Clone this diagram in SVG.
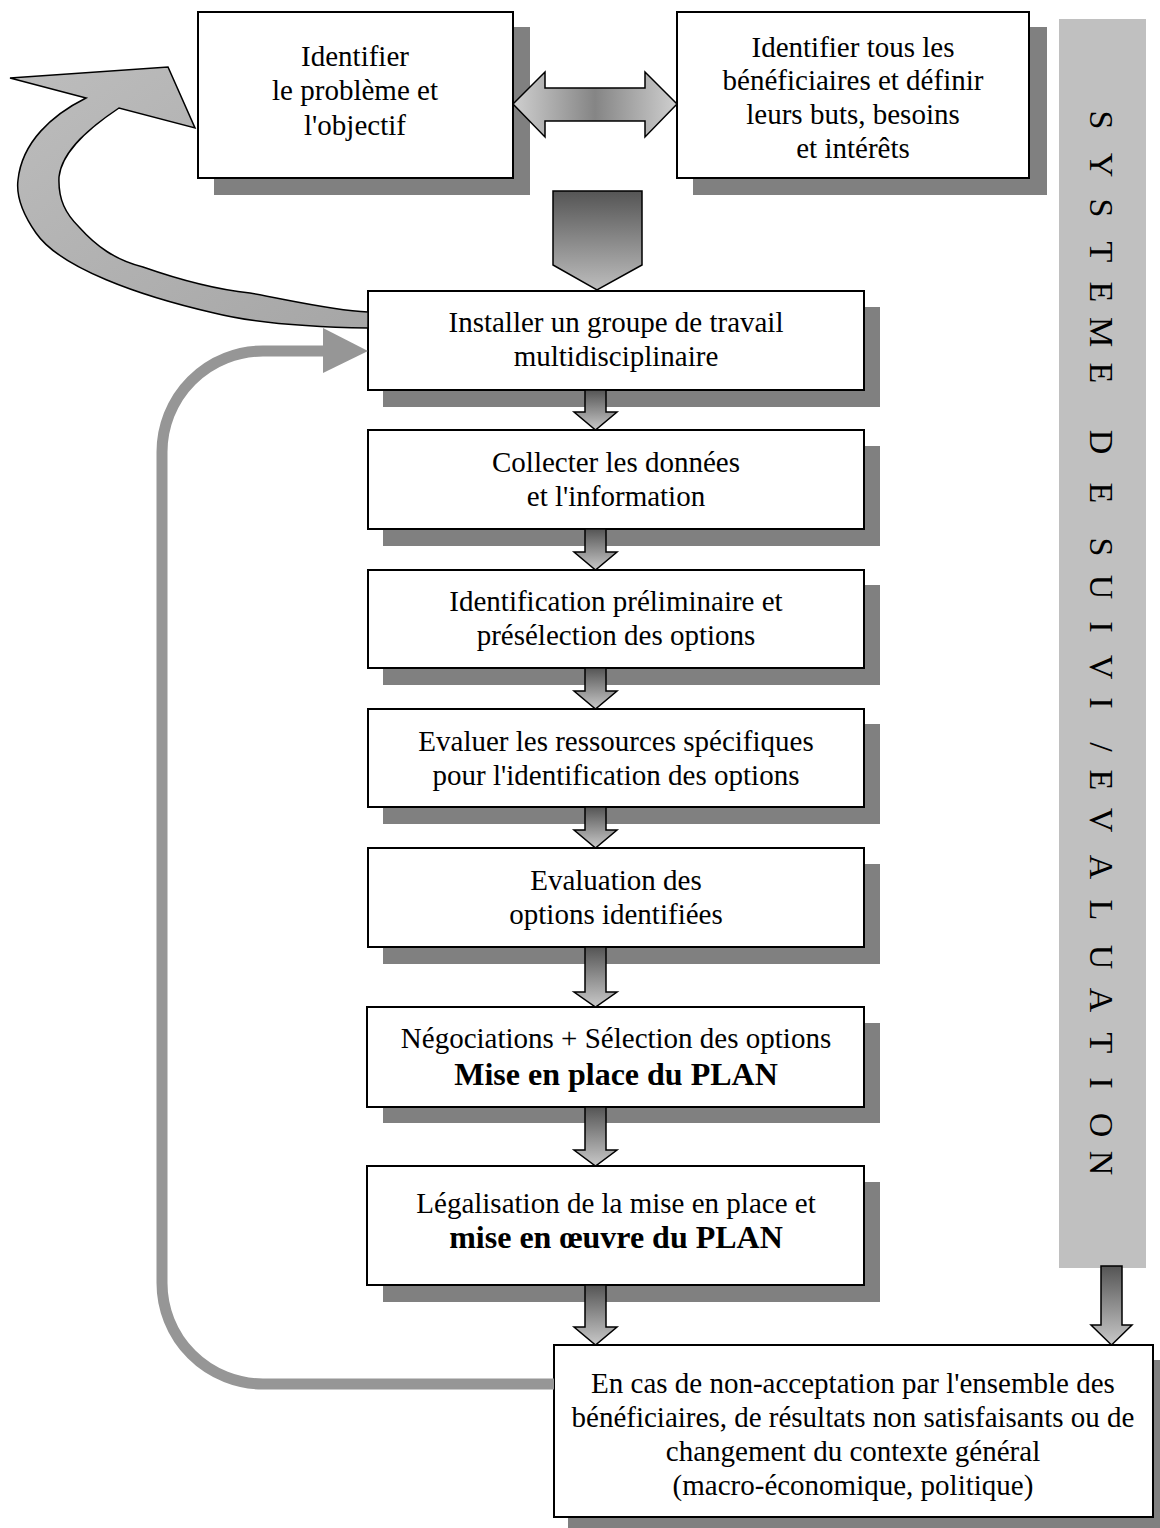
<svg xmlns="http://www.w3.org/2000/svg" width="1160" height="1528" viewBox="0 0 1160 1528">
  <defs>
    <linearGradient id="gDown" x1="0" y1="0" x2="0" y2="1">
      <stop offset="0" stop-color="#555555"/>
      <stop offset="1" stop-color="#c8c8c8"/>
    </linearGradient>
    <linearGradient id="gBig" x1="0" y1="0" x2="0" y2="1">
      <stop offset="0" stop-color="#555555"/>
      <stop offset="1" stop-color="#bdbdbd"/>
    </linearGradient>
    <linearGradient id="gSide" x1="0" y1="0" x2="1" y2="0">
      <stop offset="0" stop-color="#cfcfcf"/>
      <stop offset="0.5" stop-color="#858585"/>
      <stop offset="1" stop-color="#cfcfcf"/>
    </linearGradient>
    <linearGradient id="gCurve" x1="0" y1="0" x2="1" y2="1">
      <stop offset="0" stop-color="#bdbdbd"/>
      <stop offset="1" stop-color="#a6a6a6"/>
    </linearGradient>
  </defs>
  <style>
    .shadow { fill: #808080; }
    .box { fill: #ffffff; stroke: #000000; stroke-width: 2; }
    .t { font-family: "Liberation Serif", "Times New Roman", serif; font-size: 29px; fill: #000000; text-anchor: middle; }
    .b { font-family: "Liberation Serif", "Times New Roman", serif; font-size: 32px; font-weight: bold; fill: #000000; text-anchor: middle; }
    .v { font-family: "Liberation Serif", "Times New Roman", serif; font-size: 34px; fill: #000000; text-anchor: middle; }
    .arr { fill: url(#gDown); stroke: #000000; stroke-width: 1.5; stroke-linejoin: miter; }
    .loop { fill: none; stroke: #969696; stroke-width: 11; }
  </style>

  <!-- monitoring / evaluation side bar -->
  <g id="bar-suivi-evaluation">
    <rect x="1059" y="19" width="87" height="1249" fill="#c0c0c0"/>
    <text class="v" transform="translate(1090,120) rotate(90)">S</text>
    <text class="v" transform="translate(1090,165) rotate(90)">Y</text>
    <text class="v" transform="translate(1090,208) rotate(90)">S</text>
    <text class="v" transform="translate(1090,252) rotate(90)">T</text>
    <text class="v" transform="translate(1090,292) rotate(90)">E</text>
    <text class="v" transform="translate(1090,332) rotate(90)">M</text>
    <text class="v" transform="translate(1090,373) rotate(90)">E</text>
    <text class="v" transform="translate(1090,442) rotate(90)">D</text>
    <text class="v" transform="translate(1090,493) rotate(90)">E</text>
    <text class="v" transform="translate(1090,547) rotate(90)">S</text>
    <text class="v" transform="translate(1090,587) rotate(90)">U</text>
    <text class="v" transform="translate(1090,627) rotate(90)">I</text>
    <text class="v" transform="translate(1090,667) rotate(90)">V</text>
    <text class="v" transform="translate(1090,703) rotate(90)">I</text>
    <text class="v" transform="translate(1090,747) rotate(90)">/</text>
    <text class="v" transform="translate(1090,780) rotate(90)">E</text>
    <text class="v" transform="translate(1090,820) rotate(90)">V</text>
    <text class="v" transform="translate(1090,867) rotate(90)">A</text>
    <text class="v" transform="translate(1090,910) rotate(90)">L</text>
    <text class="v" transform="translate(1090,957) rotate(90)">U</text>
    <text class="v" transform="translate(1090,1000) rotate(90)">A</text>
    <text class="v" transform="translate(1090,1043) rotate(90)">T</text>
    <text class="v" transform="translate(1090,1083) rotate(90)">I</text>
    <text class="v" transform="translate(1090,1125) rotate(90)">O</text>
    <text class="v" transform="translate(1090,1163) rotate(90)">N</text>
  </g>

  <!-- nodes -->
  <g id="node-probleme">
    <rect class="shadow" x="214" y="27" width="316" height="168"/>
    <rect class="box" x="198" y="12" width="315" height="166"/>
    <text class="t" x="355" y="66">Identifier</text>
    <text class="t" x="355" y="100">le problème et</text>
    <text class="t" x="355" y="135">l'objectif</text>
  </g>

  <g id="node-beneficiaires">
    <rect class="shadow" x="693" y="27" width="354" height="168"/>
    <rect class="box" x="677" y="12" width="352" height="166"/>
    <text class="t" x="853" y="57">Identifier tous les</text>
    <text class="t" x="853" y="90">bénéficiaires et définir</text>
    <text class="t" x="853" y="124">leurs buts, besoins</text>
    <text class="t" x="853" y="158">et intérêts</text>
  </g>

  <g id="node-groupe">
    <rect class="shadow" x="383" y="307" width="497" height="100"/>
    <rect class="box" x="368" y="291" width="496" height="99"/>
    <text class="t" x="616" y="332">Installer un groupe de travail</text>
    <text class="t" x="616" y="366">multidisciplinaire</text>
  </g>

  <g id="node-collecte">
    <rect class="shadow" x="383" y="446" width="497" height="100"/>
    <rect class="box" x="368" y="430" width="496" height="99"/>
    <text class="t" x="616" y="472">Collecter les données</text>
    <text class="t" x="616" y="506">et l'information</text>
  </g>

  <g id="node-identification">
    <rect class="shadow" x="383" y="585" width="497" height="100"/>
    <rect class="box" x="368" y="570" width="496" height="98"/>
    <text class="t" x="616" y="611">Identification préliminaire et</text>
    <text class="t" x="616" y="645">présélection des options</text>
  </g>

  <g id="node-ressources">
    <rect class="shadow" x="383" y="724" width="497" height="100"/>
    <rect class="box" x="368" y="709" width="496" height="98"/>
    <text class="t" x="616" y="751">Evaluer les ressources spécifiques</text>
    <text class="t" x="616" y="785">pour l'identification des options</text>
  </g>

  <g id="node-evaluation">
    <rect class="shadow" x="383" y="864" width="497" height="100"/>
    <rect class="box" x="368" y="848" width="496" height="99"/>
    <text class="t" x="616" y="890">Evaluation des</text>
    <text class="t" x="616" y="924">options identifiées</text>
  </g>

  <g id="node-negociations">
    <rect class="shadow" x="383" y="1023" width="497" height="100"/>
    <rect class="box" x="367" y="1007" width="497" height="100"/>
    <text class="t" x="616" y="1048">Négociations + Sélection des options</text>
    <text class="b" x="616" y="1085">Mise en place du PLAN</text>
  </g>

  <g id="node-legalisation">
    <rect class="shadow" x="383" y="1182" width="497" height="120"/>
    <rect class="box" x="367" y="1166" width="497" height="119"/>
    <text class="t" x="616" y="1213">Légalisation de la mise en place et</text>
    <text class="b" x="616" y="1248">mise en œuvre du PLAN</text>
  </g>

  <g id="node-non-acceptation">
    <rect class="shadow" x="568" y="1360" width="600" height="168"/>
    <rect class="box" x="554" y="1345" width="599" height="172"/>
    <text class="t" x="853" y="1393">En cas de non-acceptation par l'ensemble des</text>
    <text class="t" x="853" y="1427">bénéficiaires, de résultats non satisfaisants ou de</text>
    <text class="t" x="853" y="1461">changement du contexte général</text>
    <text class="t" x="853" y="1495">(macro-économique, politique)</text>
  </g>

  <!-- connectors -->
  <g id="connectors">
    <!-- feedback loop from the last box back to the working group -->
    <path class="loop" d="M554,1384 H263 A101,101 0 0 1 162,1283 V452 A101,101 0 0 1 263,351 H326"/>
    <polygon points="323,328 368,351 323,373" fill="#969696"/>

    <!-- curved return arrow towards the first box -->
    <path d="M368,328 C300,327 250,322 214,313 C140,296 60,268 36,233 C22,213 16,196 18,180 C22,142 52,115 86,98 L10,78 L168,67 L195,128 L119,108 C92,126 62,150 59,177 C58,200 66,214 79,227 C96,246 115,260 143,267 C180,280 212,289 250,293 C290,300 330,310 368,312 Z" fill="url(#gCurve)" stroke="#000000" stroke-width="1.5"/>

    <!-- double arrow between the two top boxes -->
    <polygon points="513,104 545,72 545,88 645,88 645,72 677,104 645,137 645,121 545,121 545,137" fill="url(#gSide)" stroke="#000000" stroke-width="1.5"/>

    <!-- large arrow into the working group -->
    <polygon points="553,191 642,191 642,265 597,290 553,265" fill="url(#gBig)" stroke="#000000" stroke-width="1.5"/>

    <!-- step arrows down the column -->
    <polygon class="arr" points="585,390 606,390 606,412 617,412 595.5,430 574,412 585,412"/>
    <polygon class="arr" points="585,529 606,529 606,552 617,552 595.5,570 574,552 585,552"/>
    <polygon class="arr" points="585,668 606,668 606,691 617,691 595.5,709 574,691 585,691"/>
    <polygon class="arr" points="585,807 606,807 606,830 617,830 595.5,848 574,830 585,830"/>
    <polygon class="arr" points="585,947 606,947 606,992 617,992 595.5,1007 574,992 585,992"/>
    <polygon class="arr" points="585,1107 606,1107 606,1150 617,1150 595.5,1166 574,1150 585,1150"/>
    <polygon class="arr" points="585,1285 606,1285 606,1327 617,1327 595.5,1345 574,1327 585,1327"/>

    <!-- arrow from the side bar -->
    <polygon class="arr" points="1101,1266 1122,1266 1122,1325 1132,1325 1111.5,1345 1091,1325 1101,1325"/>
  </g>
</svg>
